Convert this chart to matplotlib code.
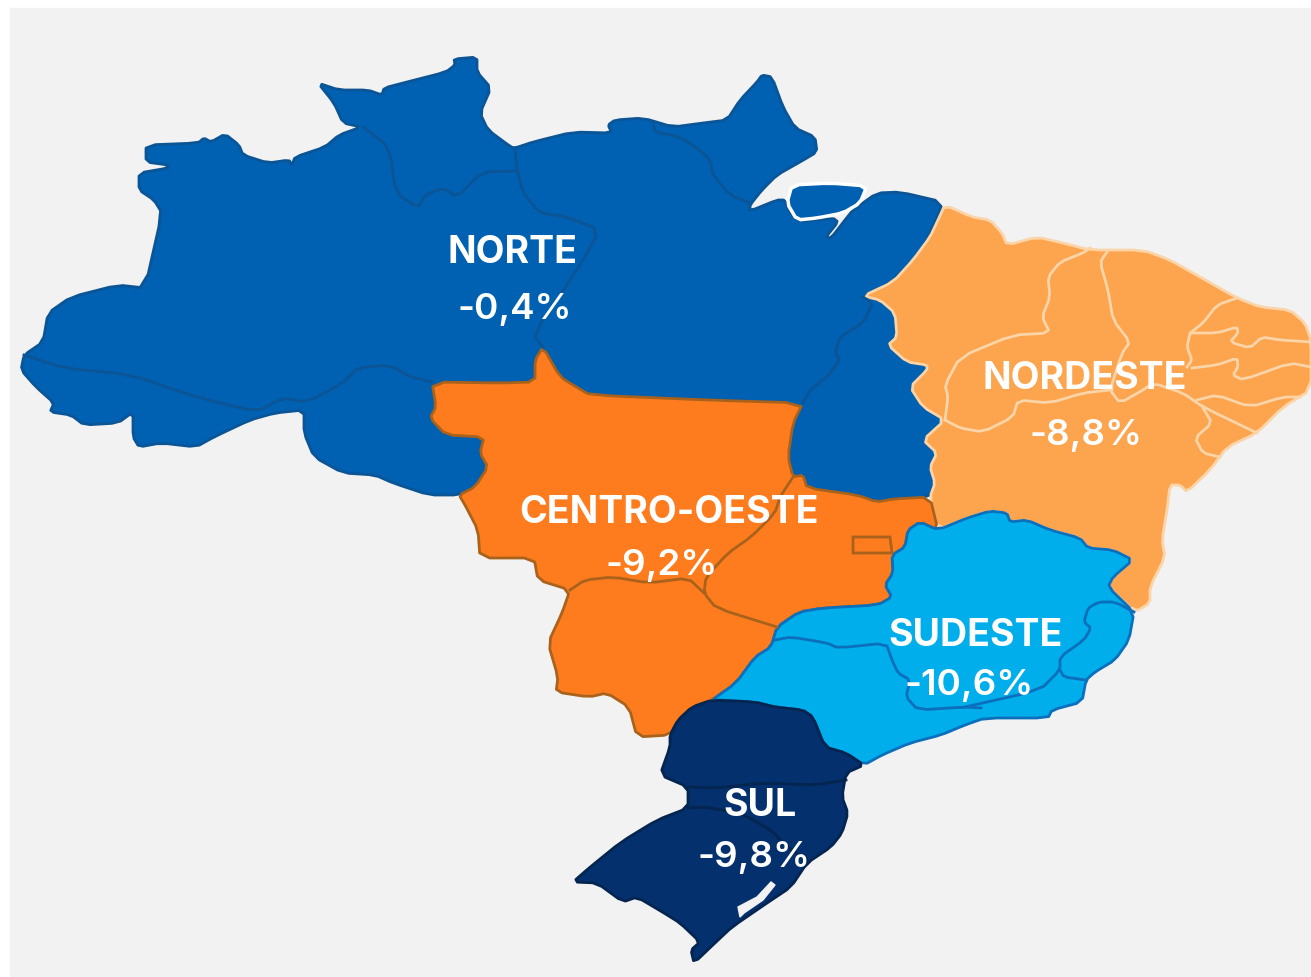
import matplotlib
matplotlib.use('Agg')
import matplotlib.pyplot as plt
from matplotlib.patches import Polygon, Rectangle

# Regions and their values
regions = ['NORTE', 'NORDESTE', 'CENTRO-OESTE', 'SUDESTE', 'SUL']
values = ['-0,4%', '-8,8%', '-9,2%', '-10,6%', '-9,8%']
colors = ['#0060B1', '#FDA44E', '#FE7C1E', '#00AEEB', '#04306E']
edge_colors = ['#0B5596', '#FBD4A8', '#A9621C', '#0B6FBC', '#03254F']
name_pos = [(512, 253), (1085, 379), (669, 513), (976, 636), (760, 806)]
value_pos = [(515, 310), (1086, 436), (662, 565), (969, 685), (754, 857)]

# Outlines in pixels
norte = [(24,355),(43,342),(48,313),(71,297),(118,285),(145,288),(162,213),(154,200),(139,190),(139,173),
         (168,168),(168,165),(146,162),(146,145),(198,143),(204,138),(211,142),(225,134),(239,145),(243,155),
         (268,163),(289,160),(292,165),(295,157),(325,147),(339,135),(361,127),(343,123),(334,103),(318,83),
         (339,90),(368,90),(382,95),(384,88),(407,82),(446,72),(455,65),(454,59),(477,57),(477,72),(491,88),
         (480,113),(488,130),(511,147),(515,148),(533,142),(573,132),(612,133),(608,125),(615,120),(643,118),
         (673,127),(703,123),(727,120),(740,100),(757,82),(762,75),(772,77),(783,107),(795,128),(815,137),
         (817,152),(800,162),(777,175),(762,190),(750,205),(750,211),(777,200),(785,200),(790,213),(800,222),
         (833,218),(838,222),(826,237),(831,238),(845,220),(853,210),(877,193),(900,192),(943,202),(933,227),
         (923,247),(910,263),(890,283),(863,296),(880,300),(895,313),(897,337),(888,345),(907,362),(927,365),
         (927,370),(910,387),(923,407),(945,420),(923,440),(937,453),(930,467),(935,483),(930,497),(893,499),
         (877,502),(857,495),(807,488),(803,475),(793,477),(788,457),(793,423),(803,403),(707,400),(590,395),
         (578,388),(560,377),(543,347),(535,360),(535,382),(500,383),(432,382),(436,407),(430,418),(446,435),
         (484,437),(480,453),(488,467),(475,487),(459,495),(429,495),(393,483),(375,475),(343,473),(314,457),
         (304,433),(304,410),(275,413),(250,420),(214,437),(196,447),(161,443),(139,447),(133,437),(133,412),
         (118,423),(84,425),(71,415),(50,412),(54,403),(36,387),(21,370)]
nordeste = [(945,205),(972,217),(990,220),(1002,233),(1007,245),(1037,237),(1063,243),(1090,250),(1143,250),
            (1170,260),(1200,277),(1237,298),(1260,307),(1290,310),(1305,323),(1311,340),(1311,390),(1283,407),
            (1257,433),(1227,447),(1210,470),(1187,492),(1180,485),(1170,485),(1167,510),(1162,540),(1165,557),
            (1150,587),(1150,603),(1135,612),(1108,587),(1113,577),(1133,560),(1113,550),(1088,548),(1080,538),
            (1050,530),(1027,520),(1010,522),(1007,513),(990,511),(967,518),(938,530),(930,497),(935,483),
            (930,467),(937,453),(923,440),(945,420),(923,407),(910,387),(927,370),(927,365),(907,362),(888,345),
            (897,337),(895,313),(880,300),(863,296),(893,282),(913,260),(930,237),(938,220)]
centro = [(432,382),(500,383),(535,382),(535,360),(543,347),(560,377),(578,388),(590,395),(707,400),(803,403),
          (793,423),(788,457),(793,477),(803,475),(807,488),(857,495),(877,502),(893,499),(930,497),(938,530),
          (920,522),(908,530),(905,547),(892,555),(893,573),(885,585),(892,597),(878,605),(823,608),(799,612),
          (777,627),(771,647),(755,657),(736,683),(712,700),(692,707),(678,720),(670,735),(637,737),(629,707),
          (607,693),(589,697),(556,692),(558,677),(548,643),(562,613),(570,590),(538,580),(534,558),(480,558),
          (478,530),(465,505),(459,495),(475,487),(488,467),(480,453),(484,437),(446,435),(430,418),(436,407)]
sudeste = [(938,530),(967,518),(990,511),(1007,513),(1010,522),(1027,520),(1050,530),(1080,538),(1088,548),
           (1113,550),(1133,560),(1113,577),(1108,587),(1134,612),(1129,640),(1115,660),(1095,672),(1086,680),
           (1082,702),(1052,710),(1048,718),(985,718),(965,725),(941,735),(910,743),(882,755),(864,765),(846,753),
           (825,747),(813,717),(803,710),(775,707),(755,702),(720,700),(712,700),(736,683),(755,657),(771,647),
           (777,627),(799,612),(823,608),(878,605),(892,597),(885,585),(893,573),(892,555),(905,547),(908,530),(920,522)]
sul = [(692,707),(712,700),(755,702),(775,707),(803,710),(813,717),(825,747),(846,753),(864,765),(846,773),
       (842,797),(848,813),(842,833),(831,847),(807,863),(791,887),(767,903),(732,927),(716,942),(694,963),
       (691,950),(700,942),(680,923),(664,913),(637,897),(623,902),(597,883),(573,882),(589,868),(621,842),
       (657,820),(688,808),(688,787),(660,775),(670,747),(670,735),(678,720)]
shapes = [norte, nordeste, centro, sudeste, sul]

# State borders inside each region
lines_norte = [
    [(24,355),(64,368),(132,375),(196,397),(257,412),(282,398),(307,402),(343,383),(357,368),(389,365),(411,377),(432,382)],
    [(363,127),(389,147),(396,193),(418,208),(425,195),(443,188),(457,197),(482,172),(516,171)],
    [(515,148),(517,170),(523,193),(540,213),(567,217),(600,230),(577,270),(533,335),(543,347)],
    [(653,123),(655,132),(680,137),(700,150),(710,160),(713,175),(730,195),(750,203)],
    [(863,297),(873,303),(863,323),(840,337),(835,353),(840,360),(827,377),(810,390),(803,403)],
]
lines_nordeste = [
    [(945,420),(948,397),(945,385),(960,357),(1013,335),(1050,333),(1042,317),(1050,297),(1048,277),(1060,262),(1083,253),(1090,248)],
    [(1107,252),(1100,262),(1108,290),(1113,320),(1130,342),(1122,353),(1110,390),(1120,403),(1143,390),(1153,383),(1183,393),(1203,407),(1257,433)],
    [(945,420),(960,428),(983,432),(1013,417),(1018,400),(1050,403),(1083,393),(1110,390)],
    [(1237,298),(1217,305),(1203,323),(1190,333),(1187,347),(1192,360),(1187,367)],
    [(1190,333),(1217,333),(1237,327),(1238,333),(1230,342),(1250,348),(1262,337),(1280,340),(1311,342)],
    [(1192,368),(1217,365),(1237,358),(1238,367),(1233,375),(1243,380),(1290,363),(1311,367)],
    [(1197,400),(1217,395),(1250,407),(1283,397),(1300,397)],
    [(1203,408),(1212,423),(1195,438),(1203,453),(1220,457)],
]
lines_centro = [
    [(793,477),(780,497),(775,513),(751,537),(728,553),(706,577),(704,593),(716,608),(777,627)],
    [(570,590),(585,580),(613,577),(649,583),(688,578),(704,593)],
]
df_box = [(853,537),(890,537),(892,553),(853,553)]
lines_sudeste = [
    [(775,640),(791,637),(827,643),(838,648),(886,643),(892,660),(898,673),(910,680),(906,697),(918,710),(965,707),(981,708)],
    [(965,707),(1040,690),(1060,670),(1060,657),(1084,640),(1091,628),(1084,622),(1088,608),(1099,602),(1115,602),(1134,612)],
    [(1060,670),(1064,677),(1086,680)],
]
lines_sul = [
    [(688,787),(716,788),(763,783),(815,785),(846,780)],
    [(688,808),(704,807),(740,813),(771,830),(787,847),(807,860)],
]
inner_lines = [lines_norte, lines_nordeste, lines_centro, lines_sudeste, lines_sul]

marajo = [(792,185),(830,183),(867,186),(860,203),(843,213),(817,218),(797,220),(787,203)]
lagoa = [(771,882),(775,885),(763,900),(744,913),(740,917),(738,907),(757,897)]


# Cut the corners a little so the borders look less like straight segments
def soften(points, closed=True, cut=0.18):
    out = [] if closed else [points[0]]
    n = len(points)
    stop = n if closed else n - 1
    for i in range(stop):
        x0, y0 = points[i]
        x1, y1 = points[(i + 1) % n]
        out.append(((1 - cut) * x0 + cut * x1, (1 - cut) * y0 + cut * y1))
        out.append((cut * x0 + (1 - cut) * x1, cut * y0 + (1 - cut) * y1))
    if not closed:
        out.append(points[-1])
    return out


fig = plt.figure(figsize=(13.11, 9.77), dpi=100, facecolor='white')
ax = fig.add_axes([0, 0, 1, 1])
ax.set_xlim(0, 1311)
ax.set_ylim(977, 0)
ax.axis('off')

# Grey panel behind the map
ax.add_patch(Rectangle((10, 8), 1301, 969, color='#F2F2F2', zorder=0))

for shape, col, edge in zip(shapes, colors, edge_colors):
    ax.add_patch(Polygon(soften(shape), closed=True, facecolor=col, edgecolor=edge, lw=2, joinstyle='round', zorder=2))

for lines, edge in zip(inner_lines, edge_colors):
    for line in lines:
        smooth = soften(line, closed=False)
        ax.plot([p[0] for p in smooth], [p[1] for p in smooth], color=edge, lw=2, solid_joinstyle='round', zorder=3)

ax.add_patch(Polygon(df_box, closed=True, facecolor=colors[2], edgecolor=edge_colors[2], lw=2, zorder=3))
ax.add_patch(Polygon(soften(marajo), closed=True, facecolor=colors[0], edgecolor='white', lw=2.5, zorder=3))
ax.add_patch(Polygon(lagoa, closed=True, facecolor='#F2F2F2', edgecolor='#F2F2F2', lw=1, zorder=3))

for name, val, p1, p2 in zip(regions, values, name_pos, value_pos):
    ax.text(p1[0], p1[1], name, color='white', fontsize=27, family='Inter', weight='bold', ha='center', va='center', zorder=5)
    ax.text(p2[0], p2[1], val, color='white', fontsize=26.5, family='Inter', weight='semibold', ha='center', va='center', zorder=5)

fig.savefig('out.png', dpi=100)
